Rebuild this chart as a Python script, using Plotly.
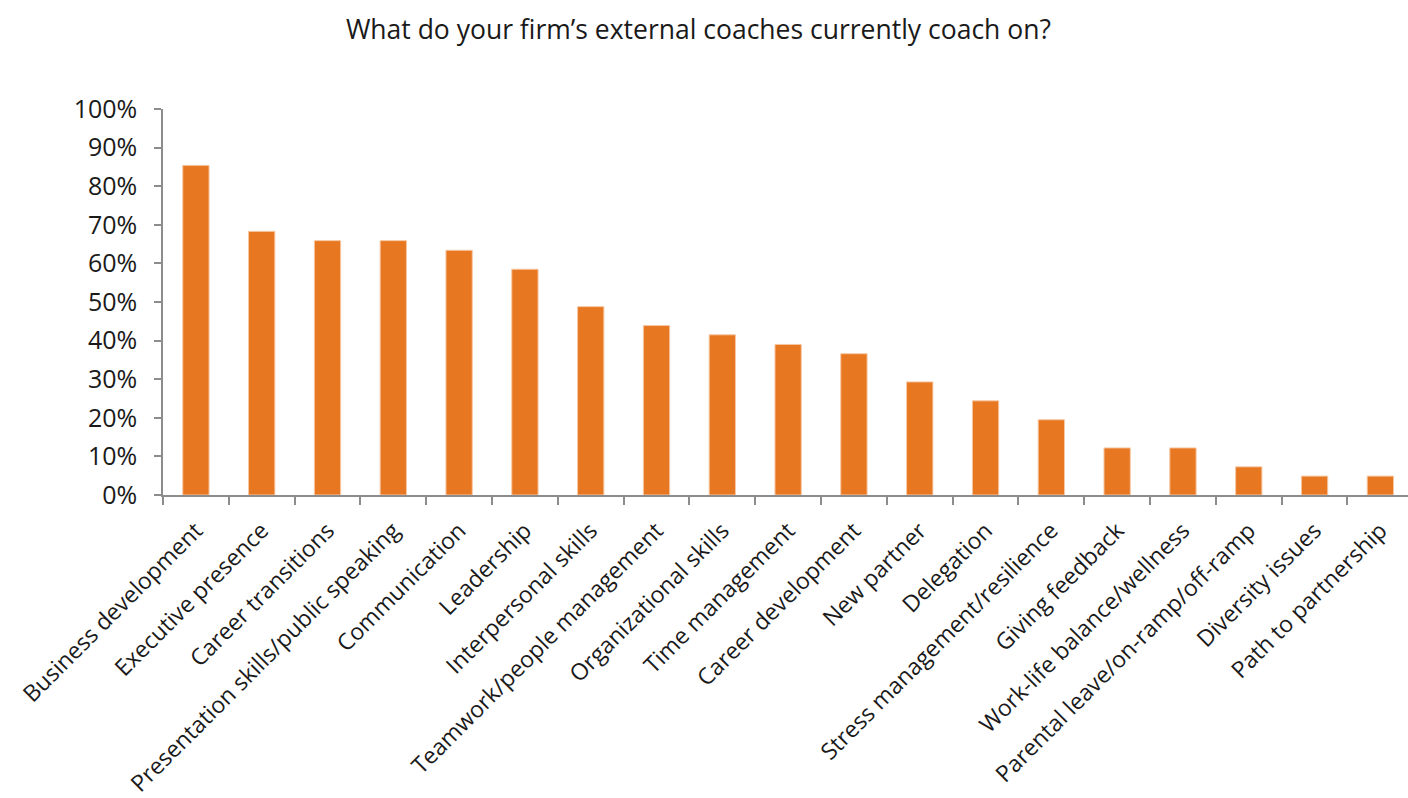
import plotly.graph_objects as go

# Coaching topics and share of firms whose external coaches cover them
topics = [
    "Business development",
    "Executive presence",
    "Career transitions",
    "Presentation skills/public speaking",
    "Communication",
    "Leadership",
    "Interpersonal skills",
    "Teamwork/people management",
    "Organizational skills",
    "Time management",
    "Career development",
    "New partner",
    "Delegation",
    "Stress management/resilience",
    "Giving feedback",
    "Work-life balance/wellness",
    "Parental leave/on-ramp/off-ramp",
    "Diversity issues",
    "Path to partnership",
]
share_pct = [85.4, 68.3, 65.9, 65.9, 63.4, 58.5, 48.8, 43.9, 41.5, 39.0,
             36.6, 29.3, 24.4, 19.5, 12.2, 12.2, 7.3, 4.9, 4.9]
y_ticks = [0, 10, 20, 30, 40, 50, 60, 70, 80, 90, 100]

title_text = "What do your firm\u2019s external coaches currently coach on?"

BAR = "#E87722"
AXIS = "#8c8c8c"
TEXT = "#1a1a1a"
FONT = "Open Sans"

fig = go.Figure(
    go.Bar(
        x=topics,
        y=share_pct,
        marker=dict(color=BAR, line=dict(color="#F6C8A4", width=1)),
        hoverinfo="skip",
    )
)

fig.update_layout(
    width=1408,
    height=798,
    margin=dict(l=163, r=0, t=109, b=303),
    paper_bgcolor="white",
    plot_bgcolor="white",
    bargap=0.6,
    showlegend=False,
    font=dict(family=FONT, color=TEXT, size=23),
    title=dict(
        text=title_text,
        x=0.496,
        xanchor="center",
        xref="container",
        y=1 - 30 / 798,
        yref="container",
        yanchor="middle",
        font=dict(family=FONT, size=26.5, color=TEXT),
    ),
)

fig.update_xaxes(
    range=[-0.5, 18.42],
    automargin=False,
    tickangle=-45,
    tickson="boundaries",
    ticks="outside",
    ticklen=8,
    tickwidth=1.5,
    tickcolor=AXIS,
    showline=True,
    linecolor=AXIS,
    linewidth=2,
    showgrid=False,
    zeroline=False,
    ticklabelstandoff=11,
    tickfont=dict(family=FONT, size=23, color=TEXT),
)

fig.update_yaxes(
    range=[0, 100],
    automargin=False,
    tickvals=y_ticks,
    ticktext=[f"{v}%" for v in y_ticks],
    ticks="outside",
    ticklen=7,
    tickwidth=1.5,
    tickcolor=AXIS,
    showline=True,
    linecolor=AXIS,
    linewidth=1.5,
    showgrid=False,
    zeroline=False,
    ticklabelstandoff=12,
    tickfont=dict(family=FONT, size=25, color=TEXT),
)

fig.write_html("out.html")
